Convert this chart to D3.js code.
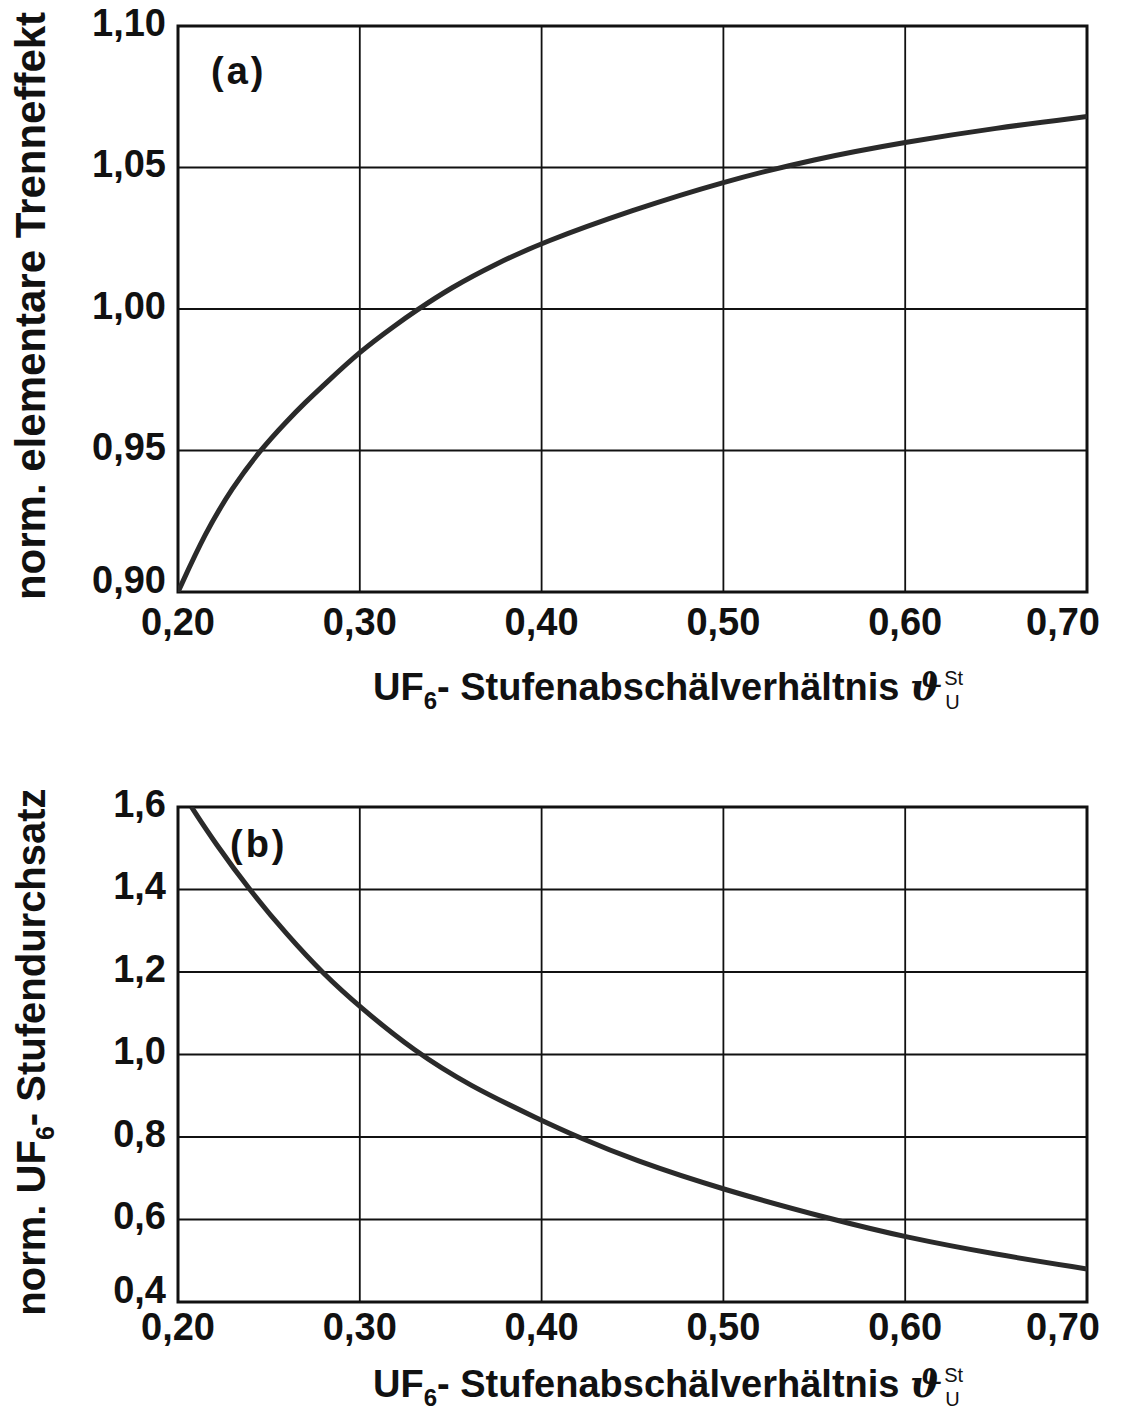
<!DOCTYPE html>
<html>
<head>
<meta charset="utf-8">
<script src="https://cdn.jsdelivr.net/npm/d3@7"></script>
<style>
  html, body { margin: 0; padding: 0; background: #fff; }
  svg { display: block; }
  text { font-family: "Liberation Sans", Arial, Helvetica, sans-serif; font-weight: bold; fill: #111; }
</style>
</head>
<body>
<svg id="fig" width="1132" height="1423"></svg>
<script>
// Shared abscissa: UF6 stage cut
const xTicks = [0.20, 0.30, 0.40, 0.50, 0.60, 0.70];
const xTickLabels = ["0,20", "0,30", "0,40", "0,50", "0,60", "0,70"];

// (a) normalised elementary separation effect
const sepX = [0.200, 0.215, 0.230, 0.245, 0.260, 0.270, 0.280, 0.300, 0.320, 0.330, 0.350, 0.375, 0.400, 0.450, 0.500, 0.550, 0.600, 0.650, 0.700];
const sepY = [0.900, 0.921, 0.937, 0.950, 0.9605, 0.967, 0.973, 0.985, 0.9945, 0.999, 1.0075, 1.016, 1.0234, 1.035, 1.045, 1.053, 1.059, 1.064, 1.068];
const sepTicks = [0.90, 0.95, 1.00, 1.05, 1.10];
const sepTickLabels = ["0,90", "0,95", "1,00", "1,05", "1,10"];

// (b) normalised UF6 stage throughput
const thrX = [0.2074, 0.220, 0.240, 0.260, 0.280, 0.300, 0.330, 0.360, 0.400, 0.420, 0.450, 0.500, 0.560, 0.600, 0.650, 0.700];
const thrY = [1.600, 1.515, 1.395, 1.290, 1.195, 1.115, 1.008, 0.925, 0.840, 0.800, 0.745, 0.672, 0.600, 0.557, 0.515, 0.480];
const thrTicks = [0.4, 0.6, 0.8, 1.0, 1.2, 1.4, 1.6];
const thrTickLabels = ["0,4", "0,6", "0,8", "1,0", "1,2", "1,4", "1,6"];

const svg = d3.select("#fig");
const x = d3.scaleLinear().domain([0.2, 0.7]).range([178, 1087]);

function drawPanel(cfg) {
  const y = d3.scaleLinear().domain(cfg.domain).range([cfg.bottom, cfg.top]);
  const g = svg.append("g");

  // grid
  g.append("g").selectAll("line").data(xTicks).join("line")
    .attr("x1", d => x(d)).attr("x2", d => x(d))
    .attr("y1", cfg.top).attr("y2", cfg.bottom)
    .attr("stroke", "#111").attr("stroke-width", 1.8);
  g.append("g").selectAll("line").data(cfg.ticks).join("line")
    .attr("x1", x.range()[0]).attr("x2", x.range()[1])
    .attr("y1", d => y(d)).attr("y2", d => y(d))
    .attr("stroke", "#111").attr("stroke-width", 1.8);

  // frame
  g.append("rect")
    .attr("x", x.range()[0]).attr("y", cfg.top)
    .attr("width", x.range()[1] - x.range()[0]).attr("height", cfg.bottom - cfg.top)
    .attr("fill", "none").attr("stroke", "#111").attr("stroke-width", 3);

  // y tick labels (lowest one lifted clear of the x labels)
  g.append("g").selectAll("text").data(cfg.ticks).join("text")
    .attr("x", 166)
    .attr("y", (d, i) => y(d) - (i === 0 ? 13 : 4))
    .attr("dy", "0.36em")
    .attr("text-anchor", "end")
    .style("font-size", "38px")
    .text((d, i) => cfg.tickLabels[i]);

  // x tick labels
  g.append("g").selectAll("text").data(xTicks).join("text")
    .attr("x", (d, i) => i === xTicks.length - 1 ? x(d) + 13 : x(d))
    .attr("y", cfg.bottom + cfg.xLabelGap)
    .attr("text-anchor", (d, i) => i === xTicks.length - 1 ? "end" : "middle")
    .style("font-size", "38px")
    .text((d, i) => xTickLabels[i]);

  // curve
  const pts = cfg.xs.map((v, i) => [v, cfg.ys[i]]);
  const clipId = "clip" + cfg.name;
  svg.append("clipPath").attr("id", clipId).append("rect")
    .attr("x", x.range()[0]).attr("y", cfg.top)
    .attr("width", x.range()[1] - x.range()[0]).attr("height", cfg.bottom - cfg.top);
  g.append("path")
    .datum(pts)
    .attr("clip-path", `url(#${clipId})`)
    .attr("fill", "none")
    .attr("stroke", "#2a2a2a")
    .attr("stroke-width", 5)
    .attr("d", d3.line().x(d => x(d[0])).y(d => y(d[1])).curve(d3.curveBasis));

  // panel tag
  g.append("text")
    .attr("x", cfg.tagX).attr("y", cfg.tagY)
    .style("font-size", "38px")
    .style("letter-spacing", "3px")
    .text(cfg.tag);

  // x axis title
  const xt = g.append("text")
    .attr("x", 373).attr("y", cfg.xTitleY)
    .style("font-size", "38px");
  xt.append("tspan").text("UF");
  xt.append("tspan").attr("dy", 9).style("font-size", "24px").text("6");
  xt.append("tspan").attr("dy", -9).text("- Stufenabschälverhältnis ");
  xt.append("tspan").style("font-family", "'DejaVu Serif', serif").style("font-style", "italic").text("ϑ");
  const bb = xt.node().getBBox();
  const sx = bb.x + bb.width + 2;
  g.append("text").attr("x", sx).attr("y", cfg.xTitleY - 15)
    .style("font-size", "20px").style("font-weight", "normal")
    .style("font-family", "'Liberation Sans Narrow', 'Liberation Sans', sans-serif")
    .text("St");
  g.append("text").attr("x", sx + 1).attr("y", cfg.xTitleY + 9)
    .style("font-size", "20px").style("font-weight", "normal")
    .style("font-family", "'Liberation Sans Narrow', 'Liberation Sans', sans-serif")
    .text("U");

  // y axis title
  const yt = g.append("text")
    .attr("transform", `translate(45,${cfg.yTitleMid}) rotate(-90)`)
    .attr("text-anchor", "middle")
    .style("font-size", cfg.yTitleSize);
  cfg.yTitle(yt);
}

drawPanel({
  name: "a", domain: [0.90, 1.10], top: 26, bottom: 592,
  ticks: sepTicks, tickLabels: sepTickLabels,
  xs: sepX, ys: sepY,
  xLabelGap: 43, xTitleY: 700,
  tag: "(a)", tagX: 211, tagY: 84,
  yTitleMid: 306, yTitleSize: "42px",
  yTitle: t => t.text("norm. elementare Trenneffekt")
});

drawPanel({
  name: "b", domain: [0.4, 1.6], top: 807, bottom: 1302,
  ticks: thrTicks, tickLabels: thrTickLabels,
  xs: thrX, ys: thrY,
  xLabelGap: 38, xTitleY: 1397,
  tag: "(b)", tagX: 230, tagY: 857,
  yTitleMid: 1052, yTitleSize: "40px",
  yTitle: t => {
    t.append("tspan").text("norm. UF");
    t.append("tspan").attr("dy", 9).style("font-size", "25px").text("6");
    t.append("tspan").attr("dy", -9).text("- Stufendurchsatz");
  }
});
</script>
</body>
</html>
